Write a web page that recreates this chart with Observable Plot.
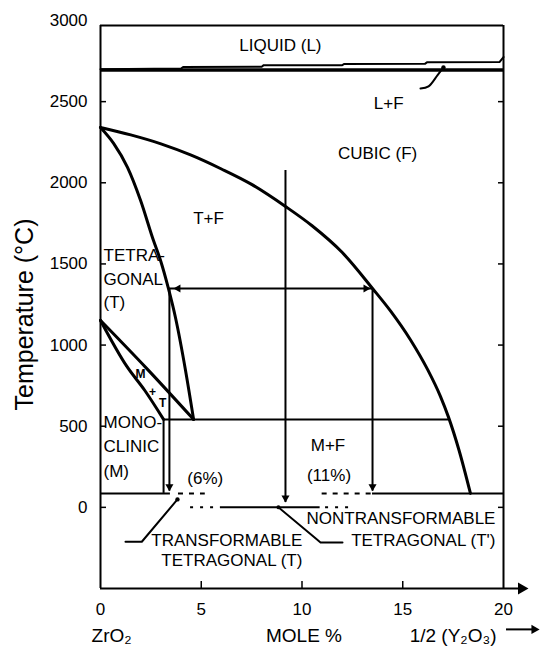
<!DOCTYPE html>
<html><head><meta charset="utf-8">
<script src="https://cdn.jsdelivr.net/npm/d3@7"></script>
<script src="https://cdn.jsdelivr.net/npm/@observablehq/plot@0.6"></script>
<style>body{margin:0;background:#fff} svg{display:block}</style>
</head><body><div id="chart"></div>
<script>
// ---- tick values ----
const yTicks = [0, 500, 1000, 1500, 2000, 2500, 3000];
const yTickMarks = [0, 500, 1000, 1500, 2000, 2500];
const xTicks = [0, 5, 10, 15, 20];
const xInnerTicks = [5, 10, 15];

// ---- phase boundaries (mole % YO1.5, temperature °C) ----
const cubicX = [0, 1.5, 3, 4.5, 6, 7.5, 9.18, 10.5, 12, 13.5, 14.4, 15.38, 16.23, 16.87, 17.27, 17.8, 18.36];
const cubicT = [2341, 2295, 2240, 2170, 2085, 1990, 1854, 1735, 1570, 1349, 1209, 1033, 850, 684, 556, 349, 86];
const tetraX = [0, 0.65, 1.34, 1.99, 2.63, 2.98, 3.37, 3.72, 4.22, 4.62];
const tetraT = [2341, 2243, 2095, 1891, 1644, 1521, 1349, 1170, 844, 542];
const monoLowerX = [0, 1.3, 2.2, 3.13];
const monoLowerT = [1152, 870, 720, 542];
const monoUpperX = [0, 2.3, 4.62];
const monoUpperT = [1152, 855, 542];
const eutectoidT = 542;
const eutectoidX = [3.13, 17.3];
const monoBoundaryX = 3.13;
const roomUpperT = 86;
const roomLowerT = 0;

// liquid region
const liquidTopT = 2969;
const solidusT = 2695;
const liquidusX = [0, 4.0, 4.1, 8.0, 8.1, 12.0, 12.1, 16.1, 16.2, 19.8, 20];
const liquidusT = [2700, 2704, 2714, 2715, 2725, 2725, 2732, 2733, 2742, 2744, 2775];
const lfLeaderX = [15.88, 16.28, 16.72, 17.02];
const lfLeaderT = [2581, 2594, 2662, 2711];

// room-temperature lines: [x start, x end]
const upperSolid = [[0, 3.47], [13.5, 20]];
const upperDashed = [[3.87, 5.2], [11.0, 13.5]];
const lowerSolid = [[5.95, 10.9]];
const lowerDotted = [[4.47, 5.7], [11.17, 12.5]];

// arrows
const middleArrowX = 9.18;
const middleArrowT = [2076, 30];
const tieT = 1349;
const tieX = [3.42, 13.5];
const sideArrowX = [3.42, 13.5];
const sideArrowT = [1349, 100];
const downTipX = [3.42, 9.18, 13.5];
const downTipT = [100, 30, 100];

// leaders
const transLeaderX = [1.24, 2.05, 3.82];
const transLeaderT = [-212, -212, 49];
const nonTransLeaderX = [8.83, 10.67, 10.92, 12.01];
const nonTransLeaderT = [0, -191, -216, -216];

// labels
const centerLabels = ["LIQUID (L)", "L+F", "CUBIC (F)", "T+F", "M+F", "(11%)", "(6%)"];
const centerLabelX = [8.93, 14.3, 13.75, 5.36, 11.29, 11.34, 5.2];
const centerLabelT = [2847, 2489, 2181, 1781, 381, 197, 178];
const leftLabels = ["TETRA-", "GONAL", "(T)", "MONO-", "CLINIC", "(M)"];
const leftLabelT = [1552, 1404, 1263, 524, 376, 222];
const leftLabelX = 0.15;
const endLabels = ["TRANSFORMABLE", "TETRAGONAL (T)", "NONTRANSFORMABLE", "TETRAGONAL (T')"];
const endLabelX = [10.02, 10.02, 19.6, 19.6];
const endLabelT = [-204, -327, -68, -204];
const smallLabels = ["M", "+", "T"];
const smallLabelX = [1.99, 2.58, 3.08];
const smallLabelT = [819, 708, 640];
const bottomLabels = ["ZrO\u2082", "MOLE %", "1/2 (Y\u2082O\u2083)"];
const bottomLabelX = [0.55, 10.1, 17.5];
const bottomLabelT = -795;
const yTitle = "Temperature (\u00B0C)";

// ---- build tables ----
const pts = (xs, ts) => xs.map((x, i) => ({x, t: ts[i]}));
const cubic = pts(cubicX, cubicT);
const tetra = pts(tetraX, tetraT);
const monoLower = pts(monoLowerX, monoLowerT);
const monoUpper = pts(monoUpperX, monoUpperT);
const liquidus = pts(liquidusX, liquidusT);
const lfLeader = pts(lfLeaderX, lfLeaderT);
const transLeader = pts(transLeaderX, transLeaderT);
const nonTransLeader = pts(nonTransLeaderX, nonTransLeaderT);
const centerTbl = centerLabels.map((s, i) => ({s, x: centerLabelX[i], t: centerLabelT[i]}));
const leftTbl = leftLabels.map((s, i) => ({s, x: leftLabelX, t: leftLabelT[i]}));
const endTbl = endLabels.map((s, i) => ({s, x: endLabelX[i], t: endLabelT[i]}));
const smallTbl = smallLabels.map((s, i) => ({s, x: smallLabelX[i], t: smallLabelT[i]}));
const bottomTbl = bottomLabels.map((s, i) => ({s, x: bottomLabelX[i], t: bottomLabelT}));
const downTips = pts(downTipX, downTipT);

const R = 3; // arrowhead size
const chart = Plot.plot({
  width: 540, height: 648,
  marginTop: 20, marginBottom: 60, marginLeft: 100, marginRight: 37,
  x: {domain: [0, 20], label: null},
  y: {domain: [-500, 3000], label: null},
  style: {fontFamily: "'Liberation Sans', Arial, Helvetica, sans-serif", fontSize: "17px", color: "black", background: "white"},
  marks: [
    // axes
    Plot.axisY({ticks: yTicks, tickSize: 0, tickPadding: 13, tickFormat: "d", fontSize: 17}),
    Plot.axisY({ticks: yTickMarks, tickSize: -6, tickFormat: () => "", strokeWidth: 1.5}),
    Plot.axisY({anchor: "right", ticks: yTickMarks, tickSize: -6, tickFormat: () => "", strokeWidth: 1.5}),
    Plot.axisX({ticks: xTicks, tickSize: 0, tickPadding: 14, tickFormat: "d", fontSize: 17}),
    Plot.axisX({ticks: xInnerTicks, tickSize: -7, tickFormat: () => "", strokeWidth: 1.5}),
    // frame
    Plot.ruleX([0, 20], {y1: -500, y2: liquidTopT, strokeWidth: 2}),
    Plot.ruleY([liquidTopT], {x1: 0, x2: 20, strokeWidth: 2}),
    Plot.ruleY([-500], {x1: 0, x2: 20.8, strokeWidth: 2}),
    Plot.dot([{x: 21.24, t: -500}], {x: "x", y: "t", symbol: "triangle", rotate: 90, r: 4.5, fill: "black", stroke: null, dx: -7}),
    Plot.ruleY([-752], {x1: 20.15, x2: 21.5, strokeWidth: 2}),
    Plot.dot([{x: 21.79, t: -752}], {x: "x", y: "t", symbol: "triangle", rotate: 90, r: 3.5, fill: "black", stroke: null, dx: -5.4}),
    // liquid
    Plot.ruleY([solidusT], {x1: 0, x2: 20, strokeWidth: 3.5}),
    Plot.line(liquidus, {x: "x", y: "t", strokeWidth: 2}),
    Plot.line(lfLeader, {x: "x", y: "t", strokeWidth: 2, curve: "catmull-rom"}),
    Plot.dot([lfLeader[lfLeader.length - 1]], {x: "x", y: "t", r: 2.2, fill: "black", stroke: null}),
    // phase boundaries
    Plot.line(cubic, {x: "x", y: "t", strokeWidth: 3, curve: "monotone-x"}),
    Plot.line(tetra, {x: "x", y: "t", strokeWidth: 3, curve: "monotone-x"}),
    Plot.line(monoLower, {x: "x", y: "t", strokeWidth: 3, curve: "monotone-x"}),
    Plot.line(monoUpper, {x: "x", y: "t", strokeWidth: 3, curve: "monotone-x"}),
    Plot.ruleY([eutectoidT], {x1: eutectoidX[0], x2: eutectoidX[1], strokeWidth: 2}),
    Plot.ruleX([monoBoundaryX], {y1: eutectoidT, y2: roomUpperT, strokeWidth: 2}),
    // room temperature lines
    Plot.ruleY(upperSolid, {y: () => roomUpperT, x1: d => d[0], x2: d => d[1], strokeWidth: 2}),
    Plot.ruleY(upperDashed, {y: () => roomUpperT, x1: d => d[0], x2: d => d[1], strokeWidth: 2, strokeDasharray: "5,6"}),
    Plot.ruleY(lowerSolid, {y: () => roomLowerT, x1: d => d[0], x2: d => d[1], strokeWidth: 2}),
    Plot.ruleY(lowerDotted, {y: () => roomLowerT, x1: d => d[0], x2: d => d[1], strokeWidth: 2, strokeDasharray: "3,7"}),
    // arrows
    Plot.ruleX([middleArrowX], {y1: middleArrowT[0], y2: middleArrowT[1], strokeWidth: 2}),
    Plot.ruleX(sideArrowX, {y1: sideArrowT[0], y2: sideArrowT[1], strokeWidth: 2}),
    Plot.ruleY([tieT], {x1: tieX[0], x2: tieX[1], strokeWidth: 2}),
    Plot.dot(downTips, {x: "x", y: "t", symbol: "triangle", rotate: 180, r: R, fill: "black", stroke: null, dy: -1.555 * R}),
    Plot.dot([{x: tieX[1] - 0.1, t: tieT}], {x: "x", y: "t", symbol: "triangle", rotate: 90, r: R, fill: "black", stroke: null, dx: -1.555 * R}),
    Plot.dot([{x: tieX[0] + 0.2, t: tieT}], {x: "x", y: "t", symbol: "triangle", rotate: -90, r: R, fill: "black", stroke: null, dx: 1.555 * R}),
    // leaders
    Plot.line(transLeader, {x: "x", y: "t", strokeWidth: 2}),
    Plot.dot([transLeader[transLeader.length - 1]], {x: "x", y: "t", r: 2.2, fill: "black", stroke: null}),
    Plot.line(nonTransLeader, {x: "x", y: "t", strokeWidth: 2}),
    Plot.dot([nonTransLeader[0]], {x: "x", y: "t", r: 2, fill: "black", stroke: null}),
    // labels
    Plot.text(centerTbl, {x: "x", y: "t", text: "s", fontSize: 17}),
    Plot.text(leftTbl, {x: "x", y: "t", text: "s", textAnchor: "start", fontSize: 17}),
    Plot.text(endTbl, {x: "x", y: "t", text: "s", textAnchor: "end", fontSize: 17}),
    Plot.text(smallTbl, {x: "x", y: "t", text: "s", fontSize: 12, fontWeight: "bold"}),
    Plot.text(bottomTbl, {x: "x", y: "t", text: "s", fontSize: 19}),
    Plot.text([yTitle], {text: d => d, frameAnchor: "left", textAnchor: "middle", rotate: -90, dx: -76, dy: 10, fontSize: 25})
  ]
});
document.getElementById("chart").append(chart);
</script></body></html>
